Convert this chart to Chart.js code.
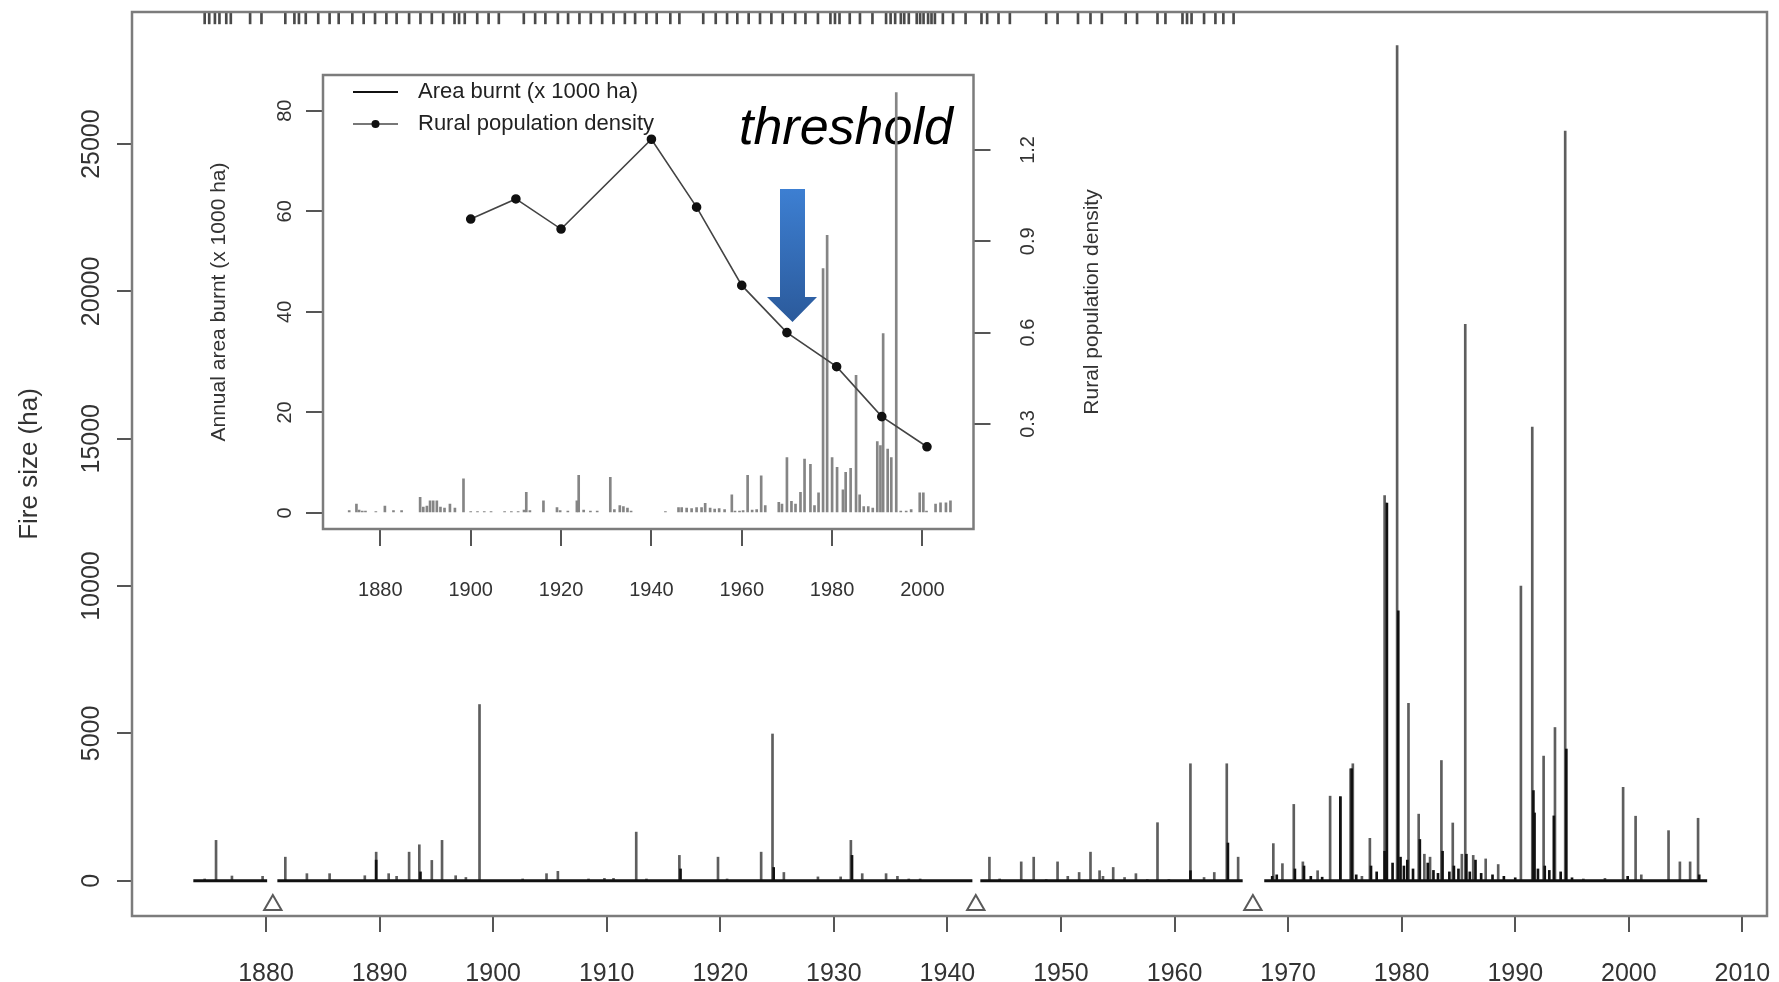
<!DOCTYPE html>
<html><head><meta charset="utf-8">
<script src="https://cdn.jsdelivr.net/npm/chart.js@4.4.0/dist/chart.umd.min.js"></script>
<style>
html,body{margin:0;padding:0;background:#fff;}
#wrap{position:relative;width:1779px;height:982px;overflow:hidden;}
#wrap canvas{position:absolute;left:0;top:0;}
</style></head><body>
<div id="wrap"><canvas id="main" width="1779" height="982"></canvas><canvas id="inset" width="1779" height="982"></canvas></div>
<script>
// ---------- main chart data ----------
const mainXTicks = [1880,1890,1900,1910,1920,1930,1940,1950,1960,1970,1980,1990,2000,2010];
const mainYTicks = [0,5000,10000,15000,20000,25000];

const fireYears = [1874.6,1875.6,1877.0,1879.7,1881.7,1883.6,1885.6,1888.7,1889.7,1890.8,1891.5,1892.6,1893.5,1894.6,1895.5,1896.7,1897.6,1898.8,
 1902.6,1904.7,1905.7,1908.4,1909.8,1910.6,1912.6,1913.5,1916.4,1919.8,1920.6,1923.6,1924.6,1925.6,1928.6,1930.6,1931.5,1932.5,1934.6,1935.6,1936.6,1937.6,
 1943.7,1944.6,1946.5,1947.6,1948.7,1949.7,1950.6,1951.6,1952.6,1953.4,1953.7,1954.6,1955.6,1956.6,1957.6,1958.5,1959.5,1961.4,1962.6,1963.5,1964.6,1965.6,
 1968.7,1969.5,1970.5,1971.3,1972.6,1973.7,1974.6,1975.5,1975.7,1976.5,1977.2,1978.5,1978.6,1979.6,1980.6,1981.5,1982.0,1982.5,1983.5,1984.5,1985.3,1985.6,
 1986.3,1987.4,1988.5,1990.5,1991.5,1992.5,1993.5,1994.4,1996.0,1997.9,1999.5,2000.6,2001.1,2003.5,2004.5,2005.4,2006.1];
const fireSizes = [60,1370,160,150,800,240,240,170,970,240,150,970,1220,690,1370,170,110,5980,
 60,240,320,60,80,80,1650,60,860,800,60,970,4980,280,130,130,1370,240,240,150,60,60,
 800,60,640,800,40,640,150,280,970,340,150,450,110,240,40,1970,40,3970,110,280,3970,800,
 1260,580,2590,640,340,2870,2850,3800,3970,150,1440,13070,12820,28340,6020,2260,900,800,4080,1960,900,18880,
 860,740,550,10000,15400,4230,5200,25440,60,80,3170,2190,200,1700,640,640,2120];

const darkFireYears = [1889.7,1893.6,1916.5,1924.7,1931.6,1961.4,1964.7,1968.6,1969.0,1970.6,1971.4,1972.0,1973.0,1974.6,1975.6,1976.0,1977.3,1977.8,
 1978.5,1978.7,1979.2,1979.7,1979.9,1980.2,1980.5,1981.0,1981.6,1982.3,1982.8,1983.2,1983.6,1984.2,1984.6,1985.0,1985.7,1986.0,1986.5,1987.0,1988.0,1989.0,
 1990.0,1991.6,1991.7,1992.0,1992.6,1993.0,1993.4,1994.0,1994.5,1995.0,1999.9,2006.2];
const darkFireSizes = [700,300,400,450,860,340,1280,150,200,400,500,150,120,2850,3800,200,500,300,
 1000,12820,600,9160,800,500,700,400,1400,600,350,250,1000,300,500,400,900,300,700,250,200,150,
 100,3060,2300,400,500,350,2200,300,4470,100,150,200];

const rugYears = [1874.6,1875.0,1875.5,1875.9,1876.5,1876.9,1878.6,1879.6,1881.7,1882.5,1882.9,1883.5,1884.6,1885.6,1886.4,1887.6,1888.6,1889.6,
 1890.6,1891.5,1892.6,1893.6,1894.6,1895.6,1896.6,1897.0,1897.5,1898.6,1899.6,1900.5,1902.7,1903.7,1904.6,1905.7,1906.6,1907.6,1908.6,1909.6,
 1910.6,1911.6,1912.5,1913.5,1914.4,1915.6,1916.4,1918.5,1919.6,1920.6,1921.5,1922.5,1923.5,1924.5,1925.5,1926.6,1927.5,1928.6,1929.7,1930.1,
 1930.5,1931.4,1932.3,1933.4,1934.6,1935.0,1935.4,1935.9,1936.2,1936.6,1937.3,1937.6,1937.9,1938.3,1938.6,1938.9,1939.6,1940.5,1941.6,1943.0,
 1943.5,1944.5,1945.5,1948.7,1949.7,1951.5,1952.6,1953.6,1955.7,1956.7,1958.5,1959.2,1960.7,1961.1,1961.5,1962.6,1963.6,1964.3,1965.2];

const recordStarts = [1873.6,1881.0,1942.9,1967.9];
const recordEnds   = [1880.1,1942.2,1966.0,2006.9];
const gapYears = [1880.6,1942.5,1966.9];

// ---------- inset data ----------
const insetXTicks = [1880,1900,1920,1940,1960,1980,2000];
const insetYTicks = [0,20,40,60,80];
const insetY1Ticks = [0.3,0.6,0.9,1.2];

const insetYears = [1873.1,1874.7,1875.3,1876.0,1876.7,1879.0,1881.0,1882.9,1884.7,1888.8,1889.5,1890.3,1891.0,1891.7,1892.5,1893.3,1894.2,1895.4,1896.5,1898.4,
 1900.0,1901.5,1903.0,1904.5,1907.5,1909.0,1910.5,1911.8,1912.3,1913.1,1916.1,1919.1,1919.8,1921.5,1923.5,1923.9,1925.0,1926.5,1928.0,1930.9,1931.8,1933.0,1933.8,1934.7,1935.5,
 1943.1,1946.0,1946.7,1947.8,1948.9,1950.0,1951.1,1951.9,1953.0,1954.0,1955.0,1956.2,1957.8,1958.5,1959.5,1960.3,1961.3,1962.3,1963.3,1964.3,1965.2,
 1968.2,1968.9,1970.0,1971.0,1971.9,1973.0,1973.9,1975.2,1976.1,1977.0,1978.0,1978.9,1980.0,1981.1,1982.4,1983.0,1984.1,1985.3,1986.1,1987.0,1988.0,1989.0,
 1990.0,1990.7,1991.3,1992.3,1993.1,1994.2,1995.2,1996.4,1997.5,1999.4,2000.2,2000.9,2002.9,2004.0,2005.2,2006.2];
const insetArea = [0.5,1.8,0.6,0.4,0.4,0.3,1.4,0.5,0.5,3.1,1.2,1.4,2.4,2.4,2.4,1.2,1.0,1.8,1.0,6.8,
 0.3,0.3,0.3,0.3,0.3,0.3,0.3,0.6,4.1,0.5,2.4,1.1,0.5,0.4,2.4,7.5,0.6,0.4,0.4,7.1,0.7,1.5,1.3,1.0,0.4,
 0.3,1.1,1.1,1.0,0.9,1.1,1.1,1.9,1.0,0.8,0.9,0.7,3.6,0.4,0.4,0.5,7.5,0.6,0.7,7.4,1.5,
 2.1,1.8,11.0,2.3,1.8,4.1,10.7,9.7,1.5,4.0,48.6,55.2,11.0,9.1,4.6,8.1,8.9,27.4,3.6,1.3,1.3,1.0,
 14.2,13.4,35.7,12.7,11.0,83.6,0.4,0.4,0.7,4.0,4.0,0.4,1.8,2.0,2.0,2.4];

const ruralYears = [1900,1910,1920,1940,1950,1960,1970,1981,1991,2001];
const ruralDensity = [0.973,1.039,0.940,1.235,1.012,0.755,0.600,0.488,0.324,0.225];

// ---------- shared styling ----------
const FONT = "'Liberation Sans', Arial, Helvetica, sans-serif";
Chart.defaults.font.family = FONT;

const boxPlugin = {
  id: 'box',
  afterDatasetsDraw(chart) {
    const a = chart.chartArea, ctx = chart.ctx;
    ctx.save();
    ctx.strokeStyle = '#7c7c7c';
    ctx.lineWidth = 2.5;
    ctx.strokeRect(a.left, a.top, a.right - a.left, a.bottom - a.top);
    ctx.restore();
  }
};

function fixedTicks(arr) { return (s) => { s.ticks = arr.map(v => ({ value: v })); }; }

// ---------- main chart ----------
const baselineData = [];
recordStarts.forEach((s, i) => {
  baselineData.push({ x: s, y: 0 }, { x: recordEnds[i], y: 0 });
  if (i < recordStarts.length - 1) baselineData.push({ x: recordEnds[i], y: null });
});

new Chart(document.getElementById('main'), {
  type: 'bar',
  data: {
    datasets: [
      { type: 'bar', label: 'Fire size', data: fireYears.map((x, i) => ({ x, y: fireSizes[i] })),
        backgroundColor: '#5e5e5e', barThickness: 2, grouped: false, order: 4 },
      { type: 'bar', label: 'Fire size (dark)', data: darkFireYears.map((x, i) => ({ x, y: darkFireSizes[i] })),
        backgroundColor: '#111111', barThickness: 2, grouped: false, order: 3 },
      { type: 'bar', label: 'Fire years', data: rugYears.map(x => ({ x, y: [29080, 29483] })),
        backgroundColor: '#4a4a4a', barThickness: 2, grouped: false, order: 2 },
      { type: 'line', label: 'Record', data: baselineData, borderColor: '#111', borderWidth: 3,
        pointRadius: 0, spanGaps: false, order: 1 },
      { type: 'line', label: 'Gaps', data: gapYears.map(x => ({ x, y: -824 })), showLine: false,
        pointStyle: 'triangle', pointRadius: 10, borderColor: '#5a5a5a', borderWidth: 2,
        backgroundColor: '#fff', order: 0 }
    ]
  },
  options: {
    responsive: false, animation: false, events: [],
    layout: { padding: { top: 11, right: 6, left: 0, bottom: 0 } },
    plugins: { legend: { display: false }, tooltip: { enabled: false } },
    scales: {
      x: {
        type: 'linear', min: 1868.2, max: 2012.17, offset: false,
        afterBuildTicks: fixedTicks(mainXTicks),
        afterFit: s => { s.height = 66; s.paddingLeft = 0; s.paddingRight = 0; },
        border: { display: false },
        grid: { drawOnChartArea: false, offset: false, tickLength: 16, color: '#555', lineWidth: 2 },
        ticks: { font: { size: 25 }, color: '#333', padding: 27, maxRotation: 0, autoSkip: false,
                 callback: v => String(v) }
      },
      y: {
        type: 'linear', min: -1197, max: 29483,
        afterBuildTicks: fixedTicks(mainYTicks),
        afterFit: s => { s.width = 132; s.paddingTop = 0; s.paddingBottom = 0; },
        border: { display: false },
        grid: { drawOnChartArea: false, tickLength: 15, color: '#555', lineWidth: 2 },
        ticks: { font: { size: 25 }, color: '#333', minRotation: 90, maxRotation: 90, crossAlign: 'center',
                 padding: -10, autoSkip: false, callback: v => String(v) },
        title: { display: true, text: 'Fire size (ha)', font: { size: 26 }, color: '#333', padding: { top: 14, bottom: 0 } }
      }
    }
  },
  plugins: [boxPlugin]
});

// ---------- inset chart ----------
function legendImage(withDot) {
  const c = document.createElement('canvas');
  c.width = 74; c.height = 20;
  const g = c.getContext('2d');
  g.strokeStyle = withDot ? '#777' : '#111';
  g.lineWidth = 2;
  g.beginPath(); g.moveTo(20, 10); g.lineTo(65, 10); g.stroke();
  if (withDot) { g.fillStyle = '#111'; g.beginPath(); g.arc(42.5, 10, 4, 0, Math.PI * 2); g.fill(); }
  return c;
}
const imgArea = legendImage(false), imgRural = legendImage(true);

// legend placed in the chart area: keep it anchored to the inset plot's top
const legendAnchor = {
  id: 'legendAnchor',
  afterLayout(chart) {
    const lg = chart.legend;
    if (!lg) return;
    const d = chart.chartArea.top - 4 - lg.top;
    lg.top += d; lg.bottom += d;
  }
};

const insetDecor = {
  id: 'insetDecor',
  beforeDatasetsDraw(chart) {
    const ctx = chart.ctx;
    ctx.save();
    ctx.font = "italic 52px " + FONT;
    ctx.fillStyle = '#000';
    ctx.textBaseline = 'alphabetic';
    ctx.textAlign = 'left';
    ctx.fillText('threshold', 739, 144);
    const grd = ctx.createLinearGradient(0, 189, 0, 322);
    grd.addColorStop(0, '#3d7fd2');
    grd.addColorStop(1, '#2b5a9b');
    ctx.fillStyle = grd;
    ctx.beginPath();
    ctx.moveTo(780, 189); ctx.lineTo(805, 189); ctx.lineTo(805, 297); ctx.lineTo(817, 297);
    ctx.lineTo(792.5, 322); ctx.lineTo(767, 297); ctx.lineTo(780, 297); ctx.closePath();
    ctx.fill();
    ctx.restore();
  },
  afterDraw(chart) {
    const ctx = chart.ctx;
    ctx.save();
    ctx.translate(1092, 302);
    ctx.rotate(-Math.PI / 2);
    ctx.font = "21px " + FONT;
    ctx.fillStyle = '#333';
    ctx.textAlign = 'center';
    ctx.textBaseline = 'middle';
    ctx.fillText('Rural population density', 0, 0);
    ctx.restore();
  }
};

new Chart(document.getElementById('inset'), {
  type: 'bar',
  data: {
    datasets: [
      { type: 'line', label: 'Rural population density', yAxisID: 'y1',
        data: ruralYears.map((x, i) => ({ x, y: ruralDensity[i] })),
        borderColor: '#444', borderWidth: 1.6, pointRadius: 4, pointBackgroundColor: '#111',
        pointBorderColor: '#111', order: 0 },
      { type: 'bar', label: 'Area burnt (x 1000 ha)', yAxisID: 'y',
        data: insetYears.map((x, i) => ({ x, y: insetArea[i] })),
        backgroundColor: '#858585', barThickness: 2, grouped: false, order: 1 }
    ]
  },
  options: {
    responsive: false, animation: false, events: [],
    layout: { padding: { left: 180, top: 75, right: 659, bottom: 382 } },
    plugins: {
      tooltip: { enabled: false },
      legend: {
        position: 'chartArea', align: 'start',
        labels: {
          usePointStyle: true, pointStyleWidth: 74, padding: 10,
          font: { size: 22 }, color: '#222',
          generateLabels: () => [
            { text: 'Area burnt (x 1000 ha)', pointStyle: imgArea, fillStyle: 'transparent', strokeStyle: 'transparent', lineWidth: 0, fontColor: '#222', hidden: false, datasetIndex: 1 },
            { text: 'Rural population density', pointStyle: imgRural, fillStyle: 'transparent', strokeStyle: 'transparent', lineWidth: 0, fontColor: '#222', hidden: false, datasetIndex: 0 }
          ]
        }
      }
    },
    scales: {
      x: {
        type: 'linear', min: 1867.3, max: 2011.3, offset: false,
        afterBuildTicks: fixedTicks(insetXTicks),
        afterFit: s => { s.height = 71; s.paddingLeft = 0; s.paddingRight = 0; },
        border: { display: false },
        grid: { drawOnChartArea: false, offset: false, tickLength: 17, color: '#555', lineWidth: 2 },
        ticks: { font: { size: 20 }, color: '#333', padding: 32, maxRotation: 0, autoSkip: false, callback: v => String(v) }
      },
      y: {
        type: 'linear', position: 'left', min: -3.18, max: 87.1,
        afterBuildTicks: fixedTicks(insetYTicks),
        afterFit: s => { s.width = 143; s.paddingTop = 0; s.paddingBottom = 0; },
        border: { display: false },
        grid: { drawOnChartArea: false, tickLength: 17, color: '#555', lineWidth: 2 },
        ticks: { font: { size: 20 }, color: '#333', minRotation: 90, maxRotation: 90, crossAlign: 'center',
                 padding: 9, autoSkip: false, callback: v => String(v) },
        title: { display: true, text: 'Annual area burnt (x 1000 ha)', font: { size: 21 }, color: '#333', padding: { top: 27, bottom: 0 } }
      },
      y1: {
        type: 'linear', position: 'right', min: -0.045, max: 1.446,
        afterBuildTicks: fixedTicks(insetY1Ticks),
        afterFit: s => { s.width = 146.5; s.paddingTop = 0; s.paddingBottom = 0; },
        border: { display: false },
        grid: { drawOnChartArea: false, tickLength: 17, color: '#555', lineWidth: 2 },
        ticks: { font: { size: 20 }, color: '#333', minRotation: 90, maxRotation: 90, crossAlign: 'center',
                 padding: 24, autoSkip: false, callback: v => v.toFixed(1) }
      }
    }
  },
  plugins: [legendAnchor, insetDecor, boxPlugin]
});
</script>
</body></html>
